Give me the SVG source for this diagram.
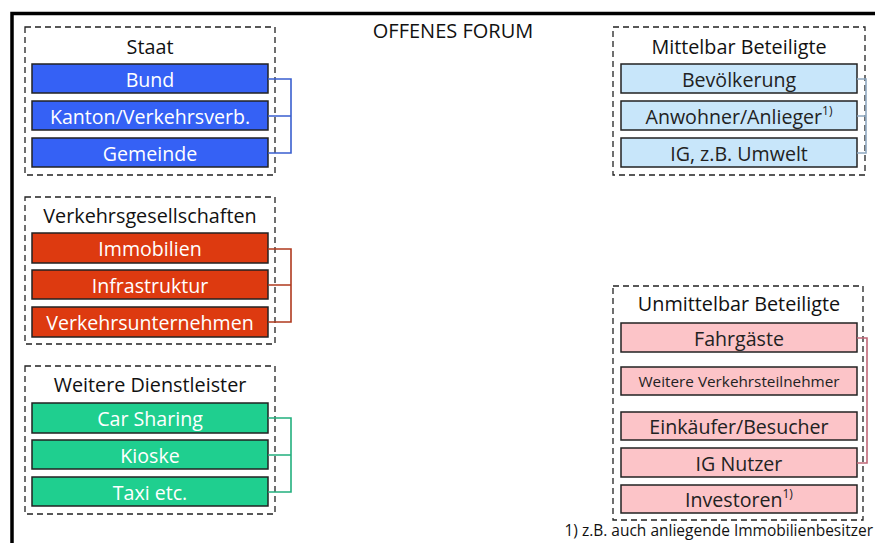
<svg xmlns="http://www.w3.org/2000/svg" width="875" height="543" viewBox="0 0 875 543">
<style>
text{font-family:"Open Sans","Noto Sans","Liberation Sans",sans-serif;text-anchor:middle;dominant-baseline:central}
.grp{fill:none;stroke:#222;stroke-width:1.3;stroke-dasharray:6,4}
.title{font-size:19.8px;fill:#111}
.bar{stroke:#222;stroke-width:1.5}
.lbl{font-size:19.6px;fill:#fff}
.dlbl{font-size:19.6px;fill:#222}
.blue{fill:#3561f5}.red{fill:#dd3a10}.green{fill:#1fcf8f}.lblue{fill:#c8e6fa}.pink{fill:#fcc4c8}
.conn{fill:none;stroke-width:1.6}
</style>
<rect width="875" height="543" fill="#fff"/>
<path d="M12 543 V13.5 H875" fill="none" stroke="#000" stroke-width="3.5"/>
<text x="453" y="30" class="title" style="font-size:20px">OFFENES FORUM</text>

<g id="staat">
<rect class="grp" x="25" y="27" width="250" height="148"/>
<text x="150" y="46" class="title">Staat</text>
<g id="bund"><rect class="bar blue" x="32" y="64" width="236" height="29"/><text x="150" y="79" class="lbl">Bund</text></g>
<g id="kanton"><rect class="bar blue" x="32" y="101" width="236" height="29"/><text x="150" y="116" class="lbl">Kanton/Verkehrsverb.</text></g>
<g id="gemeinde"><rect class="bar blue" x="32" y="138" width="236" height="29"/><text x="150" y="153" class="lbl">Gemeinde</text></g>
</g>

<g id="verkehrsgesellschaften">
<rect class="grp" x="25" y="197" width="250" height="147"/>
<text x="150" y="215" class="title">Verkehrsgesellschaften</text>
<g id="immobilien"><rect class="bar red" x="32" y="233" width="236" height="30"/><text x="150" y="248" class="lbl">Immobilien</text></g>
<g id="infrastruktur"><rect class="bar red" x="32" y="270" width="236" height="29"/><text x="150" y="285" class="lbl">Infrastruktur</text></g>
<g id="verkehrsunternehmen"><rect class="bar red" x="32" y="307" width="236" height="30"/><text x="150" y="322" class="lbl">Verkehrsunternehmen</text></g>
</g>

<g id="dienstleister">
<rect class="grp" x="25" y="366" width="250" height="148"/>
<text x="150" y="384" class="title">Weitere Dienstleister</text>
<g id="carsharing"><rect class="bar green" x="32" y="403" width="236" height="30"/><text x="150" y="418" class="lbl">Car Sharing</text></g>
<g id="kioske"><rect class="bar green" x="32" y="440" width="236" height="29"/><text x="150" y="455" class="lbl">Kioske</text></g>
<g id="taxi"><rect class="bar green" x="32" y="477" width="236" height="29"/><text x="150" y="492" class="lbl">Taxi etc.</text></g>
</g>

<g id="mittelbar">
<rect class="grp" x="613" y="27" width="252" height="148"/>
<text x="739" y="46" class="title">Mittelbar Beteiligte</text>
<g id="bevoelkerung"><rect class="bar lblue" x="621" y="64" width="236" height="29"/><text x="739" y="79" class="dlbl">Bevölkerung</text></g>
<g id="anwohner"><rect class="bar lblue" x="621" y="101" width="236" height="29"/><text x="739" y="116" class="dlbl">Anwohner/Anlieger<tspan font-size="12" dy="-6">1)</tspan></text></g>
<g id="igumwelt"><rect class="bar lblue" x="621" y="138" width="236" height="29"/><text x="739" y="153" class="dlbl">IG, z.B. Umwelt</text></g>
</g>

<g id="unmittelbar">
<rect class="grp" x="613" y="286" width="250" height="234"/>
<text x="739" y="303" class="title">Unmittelbar Beteiligte</text>
<g id="fahrgaeste"><rect class="bar pink" x="621" y="323" width="236" height="29"/><text x="739" y="338" class="dlbl">Fahrgäste</text></g>
<g id="weitere"><rect class="bar pink" x="621" y="367" width="236" height="28"/><text x="739" y="381" class="dlbl" style="font-size:15.3px">Weitere Verkehrsteilnehmer</text></g>
<g id="einkaeufer"><rect class="bar pink" x="621" y="412" width="236" height="28"/><text x="739" y="426" class="dlbl">Einkäufer/Besucher</text></g>
<g id="ignutzer"><rect class="bar pink" x="621" y="448" width="236" height="29"/><text x="739" y="463" class="dlbl">IG Nutzer</text></g>
<g id="investoren"><rect class="bar pink" x="621" y="485" width="236" height="28"/><text x="739" y="499" class="dlbl">Investoren<tspan font-size="12" dy="-6">1)</tspan></text></g>
</g>

<g id="connectors">
<path class="conn" stroke="#3a5fcf" d="M268 79 H291 V153 H268 M268 116 H291"/>
<path class="conn" stroke="#b03a1e" d="M268 249 H291 V322 H268 M268 285 H291"/>
<path class="conn" stroke="#22b07e" d="M268 418 H291 V492 H268 M268 455 H291"/>
<path class="conn" stroke="#8fa8c0" d="M857 79 H866 V153 H857 M857 116 H866"/>
<path class="conn" stroke="#c06878" d="M857 338 H867 V463 H857"/>
</g>

<text x="873" y="530" style="font-size:15.5px;text-anchor:end;fill:#111">1) z.B. auch anliegende Immobilienbesitzer</text>
</svg>
